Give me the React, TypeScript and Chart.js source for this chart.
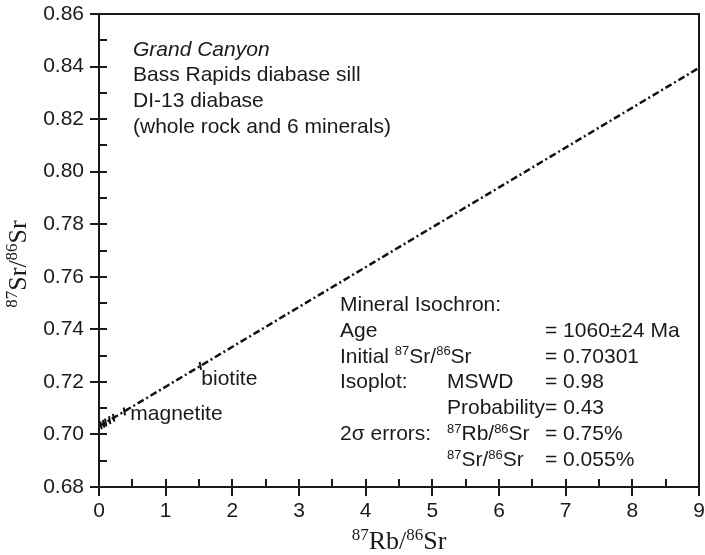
import React, { useEffect, useRef } from "react";
import { Chart, registerables } from "chart.js";

Chart.register(...registerables);

// ---- data ----
const xTickValues = [0, 1, 2, 3, 4, 5, 6, 7, 8, 9];
const xMinorTickValues = [0.5, 1.5, 2.5, 3.5, 4.5, 5.5, 6.5, 7.5, 8.5];
const yTickValues = [0.68, 0.7, 0.72, 0.74, 0.76, 0.78, 0.8, 0.82, 0.84, 0.86];
const yMinorTickValues = [0.69, 0.71, 0.73, 0.75, 0.77, 0.79, 0.81, 0.83, 0.85];

// whole rock + 6 minerals (87Rb/86Sr, 87Sr/86Sr)
const sampleRbSr = [0.03, 0.07, 0.1, 0.16, 0.22, 0.38, 1.52];
const sampleSrSr = [0.70347, 0.70407, 0.70453, 0.70544, 0.70635, 0.70877, 0.72606];

// isochron line end points
const isochronRbSr = [0, 9];
const isochronSrSr = [0.70301, 0.8395];

const pointLabelText = ["magnetite", "biotite"];
const pointLabelIndex = [5, 6];

const titleLines = ["Grand Canyon", "Bass Rapids diabase sill", "DI-13 diabase", "(whole rock and 6 minerals)"];

type Run = [string, boolean];
const resultRows: { c1: Run[]; c2: Run[]; c3: string }[] = [
  { c1: [["Mineral Isochron:", false]], c2: [], c3: "" },
  { c1: [["Age", false]], c2: [], c3: "= 1060±24 Ma" },
  { c1: [["Initial ", false], ["87", true], ["Sr/", false], ["86", true], ["Sr", false]], c2: [], c3: "= 0.70301" },
  { c1: [["Isoplot:", false]], c2: [["MSWD", false]], c3: "= 0.98" },
  { c1: [], c2: [["Probability= 0.43", false]], c3: "" },
  { c1: [["2σ errors:", false]], c2: [["87", true], ["Rb/", false], ["86", true], ["Sr", false]], c3: "= 0.75%" },
  { c1: [], c2: [["87", true], ["Sr/", false], ["86", true], ["Sr", false]], c3: "= 0.055%" },
];

const xTitle: Run[] = [["87", true], ["Rb/", false], ["86", true], ["Sr", false]];
const yTitle: Run[] = [["87", true], ["Sr/", false], ["86", true], ["Sr", false]];

const SANS = '"Liberation Sans", Arial, Helvetica, sans-serif';
const SERIF = '"Liberation Serif", "Times New Roman", serif';
const INK = "#1a1a1a";
const FS = 21;

function drawRich(ctx: CanvasRenderingContext2D, runs: Run[], x: number, y: number, size: number, family: string, style = "") {
  let cx = x;
  for (const [t, sup] of runs) {
    const s = sup ? Math.round(size * 0.64) : size;
    ctx.font = `${style} ${s}px ${family}`;
    ctx.fillText(t, cx, sup ? y - size * 0.34 : y);
    cx += ctx.measureText(t).width;
  }
  return cx - x;
}

function measureRich(ctx: CanvasRenderingContext2D, runs: Run[], size: number, family: string) {
  let w = 0;
  for (const [t, sup] of runs) {
    const s = sup ? Math.round(size * 0.64) : size;
    ctx.font = `${s}px ${family}`;
    w += ctx.measureText(t).width;
  }
  return w;
}

const decorPlugin = {
  id: "decor",
  afterDraw(chart: any) {
    const ctx: CanvasRenderingContext2D = chart.ctx;
    const ca = chart.chartArea;
    const xs = chart.scales.x;
    const ys = chart.scales.y;
    ctx.save();
    ctx.strokeStyle = INK;
    ctx.lineWidth = 2;
    ctx.lineCap = "butt";
    // frame
    ctx.strokeRect(ca.left, ca.top, ca.right - ca.left, ca.bottom - ca.top);
    // ticks
    ctx.beginPath();
    for (const v of xTickValues) {
      const px = Math.round(xs.getPixelForValue(v));
      ctx.moveTo(px, ca.bottom + 9);
      ctx.lineTo(px, ca.bottom - 8);
    }
    for (const v of xMinorTickValues) {
      const px = Math.round(xs.getPixelForValue(v));
      ctx.moveTo(px, ca.bottom);
      ctx.lineTo(px, ca.bottom - 8);
    }
    for (const v of yTickValues) {
      const py = Math.round(ys.getPixelForValue(v));
      ctx.moveTo(ca.left - 9, py);
      ctx.lineTo(ca.left + 8, py);
    }
    for (const v of yMinorTickValues) {
      const py = Math.round(ys.getPixelForValue(v));
      ctx.moveTo(ca.left, py);
      ctx.lineTo(ca.left + 8, py);
    }
    ctx.stroke();

    ctx.fillStyle = INK;
    ctx.textBaseline = "alphabetic";
    ctx.textAlign = "left";

    // top-left title block
    titleLines.forEach((t, i) => {
      ctx.font = `${i === 0 ? "italic " : ""}${FS}px ${SANS}`;
      ctx.fillText(t, ca.left + 34, ca.top + 41.5 + i * 25.8);
    });

    // result block
    const c1 = 340, c2 = 447, c3 = 545;
    resultRows.forEach((r, i) => {
      const y = 311 + i * 25.8;
      if (r.c1.length) drawRich(ctx, r.c1, c1, y, FS, SANS);
      if (r.c2.length) drawRich(ctx, r.c2, c2, y, FS, SANS);
      if (r.c3) {
        ctx.font = `${FS}px ${SANS}`;
        ctx.fillText(r.c3, c3, y);
      }
    });

    // point labels
    pointLabelIndex.forEach((idx, i) => {
      const px = xs.getPixelForValue(sampleRbSr[idx]);
      const py = ys.getPixelForValue(sampleSrSr[idx]);
      ctx.font = `${FS}px ${SANS}`;
      if (i === 0) ctx.fillText(pointLabelText[i], px + 6, py + 9);
      else ctx.fillText(pointLabelText[i], px + 1, py + 19);
    });

    // axis titles
    const xw = measureRich(ctx, xTitle, 26, SERIF);
    drawRich(ctx, xTitle, (ca.left + ca.right) / 2 - xw / 2, 549, 26, SERIF);
    const yw = measureRich(ctx, yTitle, 26, SERIF);
    ctx.save();
    ctx.translate(26, 264);
    ctx.rotate(-Math.PI / 2);
    drawRich(ctx, yTitle, -yw / 2, 0, 26, SERIF);
    ctx.restore();

    ctx.restore();
  },
};

export default function App() {
  const ref = useRef<HTMLCanvasElement>(null);
  useEffect(() => {
    if (!ref.current) return;
    const chart = new Chart(ref.current, {
      type: "scatter",
      data: {
        datasets: [
          {
            type: "line",
            data: isochronRbSr.map((x, i) => ({ x, y: isochronSrSr[i] })),
            borderColor: "#111",
            borderWidth: 2.5,
            borderDash: [7, 3, 2, 3],
            pointRadius: 0,
            fill: false,
          } as any,
          {
            data: sampleRbSr.map((x, i) => ({ x, y: sampleSrSr[i] })),
            pointStyle: "line",
            rotation: 80,
            pointRadius: 4,
            borderWidth: 2,
            borderColor: "#111",
            backgroundColor: "#111",
          } as any,
        ],
      },
      options: {
        animation: false,
        responsive: false,
        maintainAspectRatio: false,
        layout: { padding: { left: 0, right: 2, top: 14, bottom: 0 } },
        plugins: { legend: { display: false }, tooltip: { enabled: false } },
        scales: {
          x: {
            type: "linear",
            min: 0,
            max: 9,
            afterBuildTicks: (s: any) => {
              s.ticks = xTickValues.map((v) => ({ value: v }));
            },
            afterFit: (s: any) => {
              s.height = 68;
              s.paddingLeft = 0;
              s.paddingRight = 0;
            },
            grid: { display: false, drawTicks: false },
            border: { display: false },
            ticks: {
              autoSkip: false,
              maxRotation: 0,
              padding: 12,
              color: INK,
              font: { family: SANS, size: FS },
              callback: (v: any) => String(v),
            },
          },
          y: {
            type: "linear",
            min: 0.68,
            max: 0.86,
            afterBuildTicks: (s: any) => {
              s.ticks = yTickValues.map((v) => ({ value: v }));
            },
            afterFit: (s: any) => {
              s.width = 99;
              s.paddingTop = 0;
              s.paddingBottom = 0;
            },
            grid: { display: false, drawTicks: false },
            border: { display: false },
            ticks: {
              autoSkip: false,
              padding: 15,
              color: INK,
              font: { family: SANS, size: FS },
              callback: (v: any) => Number(v).toFixed(2),
            },
          },
        },
      },
      plugins: [decorPlugin],
    });
    return () => chart.destroy();
  }, []);
  return (
    <div style={{ position: "absolute", left: 0, top: 0, width: 705, height: 555, background: "#fff" }}>
      <canvas ref={ref} width={705} height={555} style={{ width: 705, height: 555, display: "block" }} />
    </div>
  );
}
